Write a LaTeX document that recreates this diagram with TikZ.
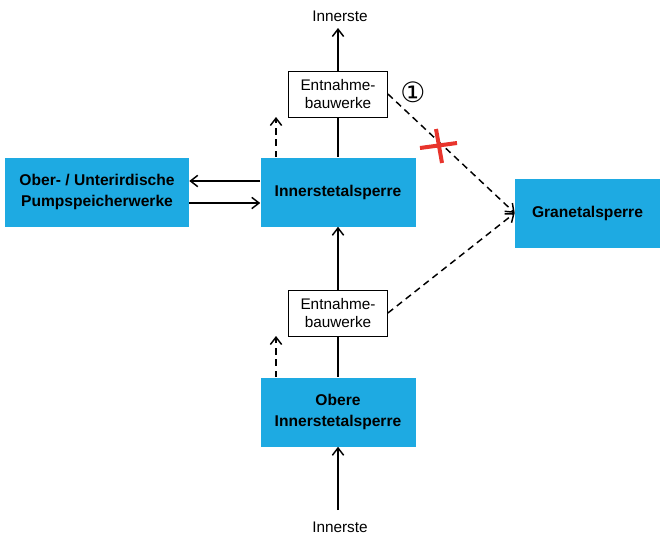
\documentclass[tikz,border=0pt]{standalone}
\usepackage{fontspec}
\setmainfont{Liberation Sans}
\newfontfamily\circfont{DejaVu Sans}
\usetikzlibrary{arrows.meta}
\definecolor{boxblue}{RGB}{30,170,226}
\definecolor{crossred}{RGB}{232,52,44}

\begin{document}
\begin{tikzpicture}[x=0.75pt,y=-0.75pt,
	block/.style={fill=boxblue,inner sep=0pt,minimum height=51.75pt,align=center,font=\fontsize{11.7}{16}\selectfont\bfseries},
	intake/.style={draw,line width=0.6pt,fill=white,inner sep=0pt,minimum width=74.25pt,minimum height=34.5pt,align=center,font=\fontsize{11.5}{14}\selectfont},
	arr/.style={line width=1.1pt,-{Straight Barb[length=5.5pt,width=8.5pt]}},
	darr/.style={arr,dash pattern=on 5pt off 3.5pt},
	cross/.style={crossred,line width=3pt}]
	\useasboundingbox (0,0) rectangle (660,536);
	\node[block,minimum width=116.25pt] (inner) at (338,192) {Innerstetalsperre};
	\node[block,minimum width=138pt] (pump) at (97,192) {Ober- / Unterirdische\\Pumpspeicherwerke};
	\node[block,minimum width=108.75pt] (grane) at (587.5,213) {Granetalsperre};
	\node[block,minimum width=116.25pt] (obere) at (338,412) {Obere\\Innerstetalsperre};
	\node[intake] (ent1) at (338,94) {Entnahme-\\bauwerke};
	\node[intake] (ent2) at (338,313) {Entnahme-\\bauwerke};
	\node[font=\fontsize{11.5}{14}\selectfont] (riverout) at (340,16) {Innerste};
	\node[font=\fontsize{11.5}{14}\selectfont] (riverin) at (340,527) {Innerste};
	\node[font=\circfont\fontsize{21}{21}\selectfont] (note) at (413,92) {①};
	\coordinate (outend) at (338,28);
	\coordinate (instart) at (338,510);
	\coordinate (spill1) at (276,117);
	\coordinate (spill2) at (276,336);
	\draw[arr] (ent1) -- (outend);
	\draw[line width=1.1pt] (ent1) -- (inner);
	\draw[arr] (ent2) -- (inner);
	\draw[line width=1.1pt] (ent2) -- (obere);
	\draw[arr] (instart) -- (obere);
	\draw[arr] ([yshift=8.25pt]inner.west) -- ([yshift=8.25pt]pump.east);
	\draw[arr] ([yshift=-8.25pt]pump.east) -- ([yshift=-8.25pt]inner.west);
	\draw[darr] ([xshift=-46.5pt]inner.north) -- (spill1);
	\draw[darr] ([xshift=-46.5pt]obere.north) -- (spill2);
	\draw[darr] (ent1.east) -- (grane.west);
	\draw[darr] (ent2.east) -- (grane.west);
	\draw[cross] (420,148) -- (457,143);
	\draw[cross] (436,129) -- (442,163);
\end{tikzpicture}
\end{document}
